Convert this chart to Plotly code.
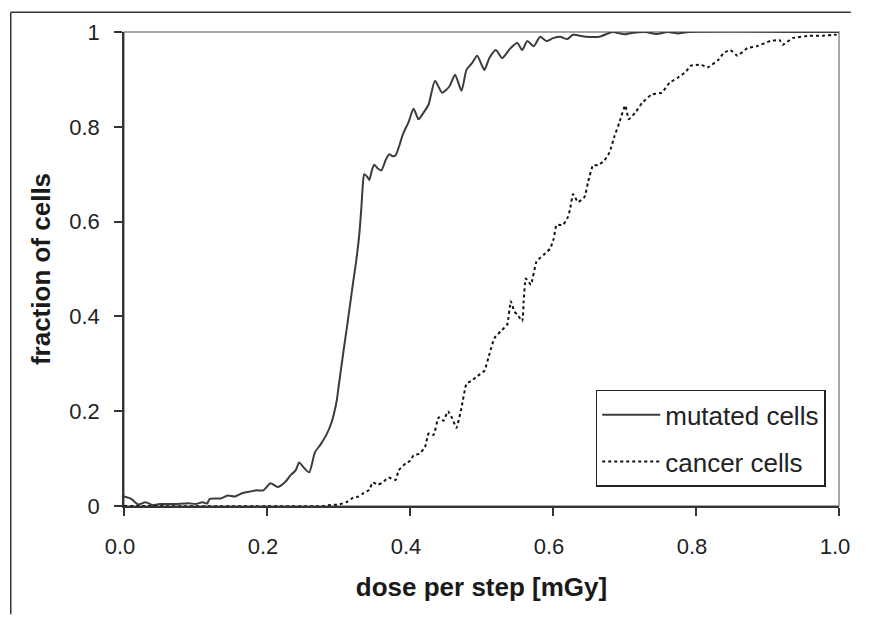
import plotly.graph_objects as go

# values
dose_mutated = [
    0.000, 0.010, 0.020, 0.030, 0.040, 0.050, 0.070, 0.090, 0.100, 0.110,
    0.116, 0.120, 0.135, 0.145, 0.155, 0.165, 0.175, 0.185, 0.195, 0.205,
    0.215, 0.225, 0.233, 0.240, 0.245, 0.252, 0.259, 0.267, 0.275, 0.283,
    0.290, 0.2975, 0.300, 0.307, 0.313, 0.320, 0.325, 0.329, 0.332, 0.334,
    0.336, 0.340, 0.343, 0.347, 0.350, 0.355, 0.360, 0.366, 0.371, 0.376,
    0.380, 0.385, 0.390, 0.398, 0.405, 0.412, 0.419, 0.426, 0.435, 0.445,
    0.455, 0.463, 0.472, 0.479, 0.487, 0.494, 0.504, 0.511, 0.520, 0.529,
    0.540, 0.550, 0.557, 0.564, 0.573, 0.582, 0.591, 0.600, 0.610, 0.620,
    0.628, 0.646, 0.665, 0.683, 0.700, 0.710, 0.729, 0.745, 0.760, 0.775,
    0.790, 1.000,
]
frac_mutated = [
    0.020, 0.015, 0.003, 0.008, 0.002, 0.004, 0.004, 0.006, 0.004, 0.008,
    0.005, 0.015, 0.016, 0.022, 0.020, 0.027, 0.030, 0.033, 0.033, 0.048,
    0.040, 0.050, 0.065, 0.075, 0.092, 0.080, 0.071, 0.113, 0.130, 0.150,
    0.175, 0.222, 0.250, 0.327, 0.390, 0.467, 0.520, 0.572, 0.630, 0.677,
    0.700, 0.695, 0.688, 0.710, 0.720, 0.712, 0.708, 0.730, 0.742, 0.738,
    0.740, 0.760, 0.784, 0.810, 0.838, 0.816, 0.830, 0.847, 0.897, 0.872,
    0.885, 0.910, 0.876, 0.920, 0.935, 0.950, 0.920, 0.945, 0.962, 0.945,
    0.965, 0.977, 0.962, 0.981, 0.970, 0.990, 0.981, 0.987, 0.990, 0.985,
    0.994, 0.990, 0.990, 1.000, 0.995, 0.998, 1.000, 0.996, 1.000, 0.997,
    1.000, 1.000,
]

dose_cancer = [
    0.000, 0.280, 0.288, 0.300, 0.311, 0.320, 0.328, 0.335, 0.343, 0.348,
    0.355, 0.362, 0.370, 0.380, 0.384, 0.394, 0.400, 0.405, 0.413, 0.421,
    0.426, 0.433, 0.440, 0.447, 0.453, 0.459, 0.465, 0.472, 0.479, 0.486,
    0.495, 0.504, 0.511, 0.518, 0.527, 0.536, 0.541, 0.546, 0.550, 0.557,
    0.559, 0.562, 0.569, 0.577, 0.587, 0.596, 0.601, 0.605, 0.614, 0.621,
    0.624, 0.628, 0.635, 0.644, 0.649, 0.656, 0.663, 0.672, 0.679, 0.686,
    0.693, 0.701, 0.706, 0.715, 0.725, 0.738, 0.752, 0.763, 0.775, 0.785,
    0.793, 0.807, 0.816, 0.831, 0.839, 0.848, 0.858, 0.872, 0.885, 0.904,
    0.917, 0.921, 0.935, 0.959, 0.977, 0.996, 1.000,
]
frac_cancer = [
    0.000, 0.000, 0.002, 0.003, 0.008, 0.017, 0.020, 0.027, 0.034, 0.050,
    0.045, 0.050, 0.060, 0.055, 0.075, 0.090, 0.095, 0.107, 0.110, 0.124,
    0.153, 0.150, 0.187, 0.180, 0.200, 0.185, 0.165, 0.207, 0.258, 0.264,
    0.275, 0.285, 0.320, 0.354, 0.369, 0.383, 0.432, 0.410, 0.404, 0.390,
    0.432, 0.480, 0.467, 0.516, 0.530, 0.543, 0.564, 0.593, 0.593, 0.610,
    0.627, 0.658, 0.641, 0.652, 0.683, 0.719, 0.719, 0.729, 0.746, 0.780,
    0.810, 0.845, 0.816, 0.830, 0.851, 0.868, 0.872, 0.893, 0.904, 0.915,
    0.929, 0.931, 0.925, 0.941, 0.956, 0.962, 0.950, 0.966, 0.970, 0.981,
    0.983, 0.973, 0.987, 0.992, 0.992, 0.994, 0.990,
]

x_ticks = [0.0, 0.2, 0.4, 0.6, 0.8, 1.0]
y_ticks = [0, 0.2, 0.4, 0.6, 0.8, 1]

FONT = "Arial, Liberation Sans, sans-serif"
AXIS_STYLE = dict(
    showline=True,
    linecolor="#333333",
    linewidth=1.5,
    showgrid=False,
    zeroline=False,
    ticks="outside",
    ticklen=8,
    tickwidth=1.5,
    tickcolor="#333333",
    tickfont=dict(family=FONT, size=22, color="#222222"),
)

# the page body has an 8px margin, so the figure is shrunk by 16px
# (no scrollbars) and the plot box sits 8px up/left
W, H = 854, 607
PW, PH = 726, 477
L, T = 116, 21

fig = go.Figure()
fig.add_trace(go.Scatter(
    x=dose_mutated, y=frac_mutated, mode="lines", name="mutated cells",
    legendgroup="a",
    line=dict(color="#3c3c3c", width=2, shape="spline", smoothing=0.6),
))
fig.add_trace(go.Scatter(
    x=dose_cancer, y=frac_cancer, mode="lines", name="cancer cells",
    legendgroup="b",
    line=dict(color="#111111", width=2, dash="dot", shape="spline", smoothing=0.4),
))

# labels nudged left a little so "1.0" stays inside the figure
fig.update_xaxes(
    range=[0, 1], tickvals=x_ticks, tickformat=".1f", ticklabelstandoff=12,
    ticklabelshift=-4,
    title=dict(text="<b>dose per step [mGy]</b>", standoff=20,
               font=dict(family=FONT, size=26, color="#1a1a1a")),
    **AXIS_STYLE,
)
fig.update_yaxes(
    range=[0, 1], tickvals=y_ticks, ticklabelstandoff=10,
    title=dict(text="<b>fraction of cells</b>", standoff=11,
               font=dict(family=FONT, size=26, color="#1a1a1a")),
    **AXIS_STYLE,
)

# plot-area frame (top/right in grey) and the outer figure border,
# kept inside the figure so nothing overflows the page
fig.add_shape(type="rect", xref="paper", yref="paper", x0=0, y0=0, x1=1, y1=1,
              line=dict(color="#8a8a8a", width=1.5), layer="below")
border_x = (1 - L) / PW
border_y = (T + PH - 1) / PH
right_x = (W - L) / PW
bottom_y = -(H - T - PH) / PH
fig.add_shape(type="line", xref="paper", yref="paper",
              x0=border_x, x1=border_x, y0=border_y, y1=bottom_y,
              line=dict(color="#333333", width=1.5))
fig.add_shape(type="line", xref="paper", yref="paper",
              x0=border_x, x1=right_x, y0=border_y, y1=border_y,
              line=dict(color="#333333", width=1.5))

fig.update_layout(
    width=W,
    height=H,
    margin=dict(l=L, r=W - L - PW, t=T, b=H - T - PH),
    plot_bgcolor="white",
    paper_bgcolor="white",
    font=dict(family=FONT, color="#222222"),
    showlegend=True,
    legend=dict(
        x=479 / PW, y=117 / PH,
        xanchor="left", yanchor="top",
        bgcolor="white",
        bordercolor="#222222", borderwidth=1.5,
        font=dict(family=FONT, size=26, color="#222222"),
        tracegroupgap=10,
        itemwidth=58,
    ),
)

fig.write_html("out.html", config={"displayModeBar": False})
